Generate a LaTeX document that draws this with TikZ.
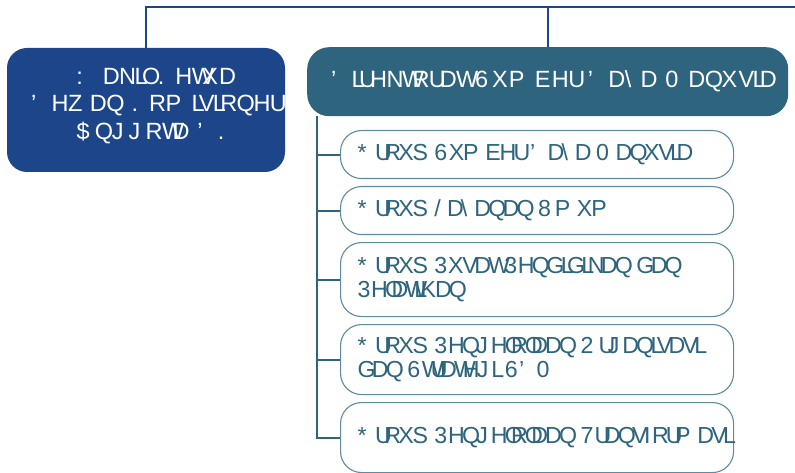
\documentclass[tikz,border=0pt]{standalone}
\usepackage{fontspec}
\setmainfont{Liberation Sans}
\newfontfamily\advfam{DejaVu Sans}
\newfontfamily\glyfam{Liberation Sans}
\definecolor{dkblue}{HTML}{1C4689}
\definecolor{teal2}{HTML}{2E647D}
\definecolor{edgec}{HTML}{5F8AA0}
\ExplSyntaxOn
\box_new:N \l_gbl_box
\cs_new_protected:Npn \gbl_char:nnn #1#2#3
  {
    \hbox_set:Nn \l_gbl_box { \advfam \fontsize{#1}{#1}\selectfont #3 }
    \hbox_to_wd:nn { \box_wd:N \l_gbl_box }
      {
        \glyfam \fontsize{#2}{#2}\selectfont
        \int_compare:nNnTF { `#3 - 29 } = { 39 }
          { ’ }
          { \char \int_eval:n { `#3 - 29 } \scan_stop: }
        \hss
      }
  }
\NewDocumentCommand \garb { m m m }
  {
    \mbox
      {
        \str_map_inline:nn {#3}
          {
            \str_if_eq:nnTF {##1} {~}
              { \group_begin: \advfam \fontsize{#1}{#1}\selectfont \skip_horizontal:n { \fontdimen2\font } \group_end: }
              { \gbl_char:nnn {#1} {#2} {##1} }
          }
      }
  }
\ExplSyntaxOff
\newcommand\gt[1]{\garb{26.7}{23.5}{#1}}
\newcommand\gc[1]{\garb{22.7}{23.2}{#1}}
\begin{document}
\begin{tikzpicture}[x=1pt,y=-1pt,
  topbox/.style={fill=dkblue,draw=none,rounded corners=20pt,minimum width=278pt,minimum height=124pt,inner sep=0pt},
  toptext/.style={text=white,align=center,font=\fontsize{23}{27.5}\selectfont,inner sep=0pt},
  dirbox/.style={fill=teal2,draw=none,rounded corners=22pt,minimum width=481pt,minimum height=69pt,text=white,anchor=north west,font=\fontsize{23}{26}\selectfont,inner xsep=24pt,inner ysep=0pt,text width=433pt,align=left},
  grpbox/.style={draw=edgec,line width=1.1pt,fill=white,rounded corners=21pt,minimum width=393pt,anchor=north west,text=teal2,font=\fontsize{23}{24}\selectfont,inner xsep=17pt,inner ysep=0pt,text width=359pt,align=left},
  topline/.style={draw=dkblue,line width=2pt},
  spine/.style={draw=teal2,line width=2pt}]
\useasboundingbox (0,0) rectangle (795,473);
\coordinate (topR) at (795,7);
\node[topbox] (b1) at (146,110) {};
\node[toptext] (b1t) at (156,106) {\gt{Wakil Ketua}\\\gt{Dewan Komisioner}\\\gt{Anggota DK}};
\node[dirbox] (b2) at (307,47) {\gt{Direktorat Sumber Daya Manusia}};
\draw[topline] (b1.north) |- (topR);
\draw[topline] (b2.north) -- (b2.north |- topR);
\node[grpbox,minimum height=48pt] (c1) at (340,130) {\gc{Group Sumber Daya Manusia}};
\node[grpbox,minimum height=48pt] (c2) at (340,186) {\gc{Group Layanan Umum}};
\node[grpbox,minimum height=74pt] (c3) at (340,242) {\gc{Group Pusat Pendidikan dan}\\\gc{Pelatihan}};
\node[grpbox,minimum height=70pt] (c4) at (340,324) {\gc{Group Pengelolaan Organisasi}\\\gc{dan Strategi SDM}};
\node[grpbox,minimum height=70pt] (c5) at (340,402) {\raisebox{5pt}{\gc{Group Pengelolaan Transformasi}}};
\coordinate (sp) at (317,116);
\draw[spine] (sp) |- (c5.west);
\foreach \c in {c1,c2,c3,c4} {\draw[spine] (sp |- \c.west) -- (\c.west);}
\end{tikzpicture}
\end{document}
